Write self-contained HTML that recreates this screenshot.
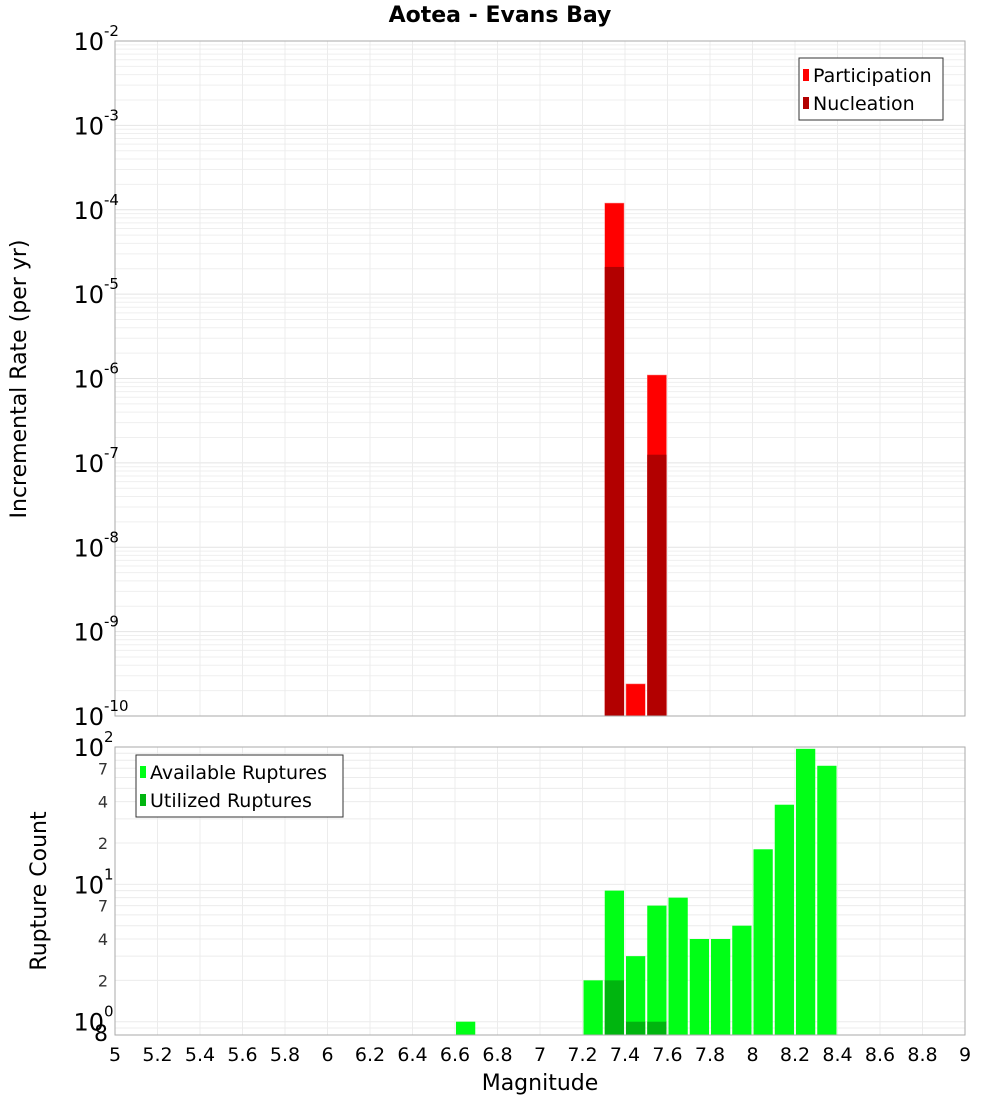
<!DOCTYPE html>
<html><head><meta charset="utf-8"><style>
body{margin:0;background:#fff;font-family:"Liberation Sans","DejaVu Sans",sans-serif}
svg{display:block}
</style></head><body>
<svg id="c" width="1000" height="1100" xmlns="http://www.w3.org/2000/svg" font-family="DejaVu Sans, Liberation Sans, sans-serif"></svg>
<script>
const topBins=[7.35,7.45,7.55];
const participation=[1.2e-4,2.4e-10,1.1e-6];
const nucleation=[2.1e-5,null,1.25e-7];
const botBins=[6.65,7.25,7.35,7.45,7.55,7.65,7.75,7.85,7.95,8.05,8.15,8.25,8.35];
const available=[1,2,9,3,7,8,4,4,5,18,38,97,73];
const utilizedBins=[7.35,7.45,7.55];
const utilized=[2,1,1];
const xTicks=[5,5.2,5.4,5.6,5.8,6,6.2,6.4,6.6,6.8,7,7.2,7.4,7.6,7.8,8,8.2,8.4,8.6,8.8,9];
const topExps=[-2,-3,-4,-5,-6,-7,-8,-9,-10];

const svg=document.getElementById('c');const NS='http://www.w3.org/2000/svg';
function mk(t,a,p){const e=document.createElementNS(NS,t);for(const k in a)e.setAttribute(k,a[k]);(p||svg).appendChild(e);return e;}
const X0=115,X1=965;const xs=m=>X0+(m-5)/4*(X1-X0);
const T0=41,T1=716;const ty=v=>T0+(-2-Math.log10(v))/8*(T1-T0);
const B0=747,B1=1035;const bmin=Math.log10(0.8),bmax=2;const by=v=>B1-(Math.log10(v)-bmin)/(bmax-bmin)*(B1-B0);
const half=0.05;

// title
let t=mk('text',{x:500,y:22,'text-anchor':'middle','font-size':22,'font-weight':'bold'});t.textContent='Aotea - Evans Bay';


// grids top
const gT=mk('g',{});
for(let e=-10;e<-2;e++)for(let k=1;k<10;k++){const y=ty(k*Math.pow(10,e));mk('line',{x1:X0,x2:X1,y1:y,y2:y,stroke:k==1?'#e4e4e4':'#efefef','stroke-width':1},gT);}
xTicks.forEach(m=>mk('line',{x1:xs(m),x2:xs(m),y1:T0,y2:T1,stroke:'#ececec'},gT));
// grids bottom
const gB=mk('g',{});
[0.8,0.9,1,2,3,4,5,6,7,8,9,10,20,30,40,50,60,70,80,90,100].forEach(v=>{const y=by(v);mk('line',{x1:X0,x2:X1,y1:y,y2:y,stroke:'#ececec'},gB);});
xTicks.forEach(m=>mk('line',{x1:xs(m),x2:xs(m),y1:B0,y2:B1,stroke:'#ececec'},gB));

// top bars
topBins.forEach((m,i)=>{const r=mk('rect',{x:xs(m-half)+1,width:xs(m+half)-xs(m-half)-2,y:ty(participation[i]),height:T1-ty(participation[i]),fill:'#ff0000',stroke:'#ff8080','stroke-width':0.5});
});
topBins.forEach((m,i)=>{if(nucleation[i]==null)return;const r=mk('rect',{x:xs(m-half)+1,width:xs(m+half)-xs(m-half)-2,y:ty(nucleation[i]),height:T1-ty(nucleation[i]),fill:'#b20000'});
});
// bottom bars
botBins.forEach((m,i)=>{const r=mk('rect',{x:xs(m-half)+1,width:xs(m+half)-xs(m-half)-2,y:by(available[i]),height:B1-by(available[i]),fill:'#00ff16'});
});
utilizedBins.forEach((m,i)=>{const r=mk('rect',{x:xs(m-half)+1,width:xs(m+half)-xs(m-half)-2,y:by(utilized[i]),height:B1-by(utilized[i]),fill:'#00b50f'});
});

// frames
let f=mk('rect',{x:X0,y:T0,width:X1-X0,height:T1-T0,fill:'none',stroke:'#aaa'});
f=mk('rect',{x:X0,y:B0,width:X1-X0,height:B1-B0,fill:'none',stroke:'#aaa'});

// top y labels
topExps.forEach(e=>{const y=ty(Math.pow(10,e));const g=mk('g',{});

let a=mk('text',{x:104,y:y+9,'text-anchor':'end','font-size':24},g);a.textContent='10';
let b=mk('text',{x:104,y:y-5,'font-size':15},g);b.textContent=String(e);});
// bottom y labels
[[100,'2'],[10,'1'],[1,'0']].forEach(([v,e])=>{const y=by(v);const g=mk('g',{});

let a=mk('text',{x:104,y:y+9,'text-anchor':'end','font-size':24},g);a.textContent='10';
let b=mk('text',{x:104,y:y-5,'font-size':15},g);b.textContent=e;});
[[7,'7'],[4,'4'],[2,'2'],[70,'7'],[40,'4'],[20,'2'],[0.8,'8']].forEach(([v,s])=>{const y=by(v);
let a=mk('text',{x:108,y:y+6,'text-anchor':'end','font-size':v==0.8?22:16,fill:v==0.8?'#000':'#333'});a.textContent=s;
});
// x labels
xTicks.forEach(m=>{let a=mk('text',{x:xs(m),y:1061,'text-anchor':'middle','font-size':19});a.textContent=String(m);
});
t=mk('text',{x:540,y:1090,'text-anchor':'middle','font-size':22});t.textContent='Magnitude';
t=mk('text',{x:0,y:0,'text-anchor':'middle','font-size':22,transform:'translate(26,379) rotate(-90)'});t.textContent='Incremental Rate (per yr)';
t=mk('text',{x:0,y:0,'text-anchor':'middle','font-size':22,transform:'translate(46,891) rotate(-90)'});t.textContent='Rupture Count';

// legends
function legend(x,y,w,items,name){const g=mk('g',{});
mk('rect',{x:x,y:y,width:w,height:items.length*28+6,fill:'#fff',stroke:'#333'},g);
items.forEach(([c,l],i)=>{mk('rect',{x:x+4,y:y+11+i*28,width:6,height:12,fill:c},g);
let tt=mk('text',{x:x+14,y:y+24+i*28,'font-size':19},g);tt.textContent=l;});}
legend(799,58,144,[['#ff0000','Participation'],['#b20000','Nucleation']],'top-legend');
legend(136,755,207,[['#00ff16','Available Ruptures'],['#00b50f','Utilized Ruptures']],'bottom-legend');
</script>
</body></html>
